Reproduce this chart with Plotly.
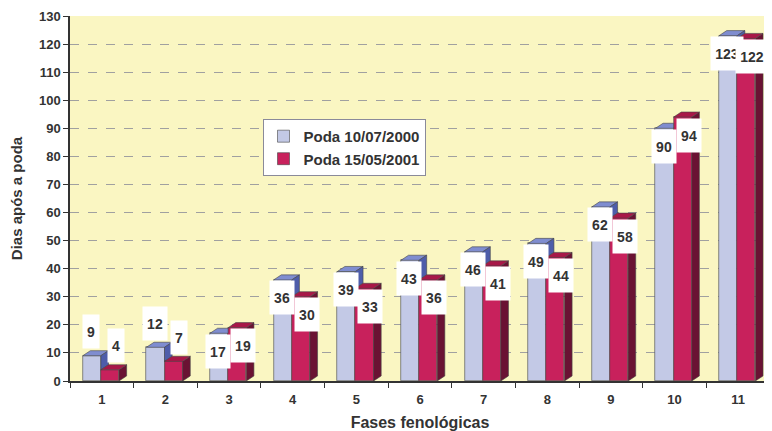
import plotly.graph_objects as go

categories = [1, 2, 3, 4, 5, 6, 7, 8, 9, 10, 11]
poda_2000 = [9, 12, 17, 36, 39, 43, 46, 49, 62, 90, 123]
poda_2001 = [4, 7, 19, 30, 33, 36, 41, 44, 58, 94, 122]
series_names = ["Poda 10/07/2000", "Poda 15/05/2001"]
y_ticks = list(range(0, 131, 10))

FONT = "Liberation Sans, Arial, sans-serif"
TXT = "#333333"
BW = 0.285          # bar width (axis units)
OFF_B = -0.30       # offset of blue bar from category centre
OFF_R = -0.015      # offset of red bar
DX = 0.12           # 3D depth, x units
DY = 1.8            # 3D depth, y units

blue_face, blue_top, blue_side = "#C3C9E6", "#7F8DD0", "#4E5DAA"
red_face, red_top, red_side = "#C8215C", "#A81848", "#6A1233"
edge = "#444444"

fig = go.Figure()
fig.add_trace(go.Bar(x=categories, y=poda_2000, name=series_names[0], width=BW, offset=OFF_B,
                     marker=dict(color=blue_face, line=dict(color=edge, width=0.6))))
fig.add_trace(go.Bar(x=categories, y=poda_2001, name=series_names[1], width=BW, offset=OFF_R,
                     marker=dict(color=red_face, line=dict(color=edge, width=0.6))))

def poly(pts):
    return "M " + " L ".join(f"{x},{y}" for x, y in pts) + " Z"

shapes = []
for c, b, r in zip(categories, poda_2000, poda_2001):
    bx0, bx1 = c + OFF_B, c + OFF_B + BW
    rx0, rx1 = c + OFF_R, c + OFF_R + BW
    if r >= b + DY:
        pts = [(bx0, b), (bx1, b), (bx1, b + DY), (bx0 + DX, b + DY)]
    else:
        pts = [(bx0, b), (bx1, b), (bx1 + DX, b + DY), (bx0 + DX, b + DY)]
    shapes.append(dict(type="path", path=poly(pts), xref="x", yref="y",
                       fillcolor=blue_top, line=dict(color=edge, width=0.6), layer="above"))
    if b > r:
        pts = [(bx1, r), (bx1, b), (bx1 + DX, b + DY), (bx1 + DX, r + DY)]
        shapes.append(dict(type="path", path=poly(pts), xref="x", yref="y",
                           fillcolor=blue_side, line=dict(color=edge, width=0.6), layer="above"))
    pts = [(rx1, 0), (rx1, r), (rx1 + DX, r + DY), (rx1 + DX, DY)]
    shapes.append(dict(type="path", path=poly(pts), xref="x", yref="y",
                       fillcolor=red_side, line=dict(color=edge, width=0.6), layer="above"))
    pts = [(rx0, r), (rx1, r), (rx1 + DX, r + DY), (rx0 + DX, r + DY)]
    shapes.append(dict(type="path", path=poly(pts), xref="x", yref="y",
                       fillcolor=red_top, line=dict(color=edge, width=0.6), layer="above"))

annotations = []
for c, b, r in zip(categories, poda_2000, poda_2001):
    for v, dxl in ((b, -0.17), (r, 0.22)):
        s = str(v)
        annotations.append(dict(x=c + dxl, y=v, xref="x", yref="y", text=s,
                                showarrow=False, bgcolor="white", width=8 * len(s) + 8, height=33,
                                borderpad=0, yshift=(24 if v < 15 else -18),
                                font=dict(family=FONT, size=14, color=TXT, weight="bold")))

# page body adds an 8px margin; the figure is sized to compensate
fig.update_layout(
    width=764, height=423,
    margin=dict(l=62, r=2, t=8, b=50),
    paper_bgcolor="white", plot_bgcolor="#FAF6C2",
    barmode="overlay", bargap=0,
    shapes=shapes, annotations=annotations,
    font=dict(family=FONT, color=TXT),
    legend=dict(x=0.275, y=0.718, xanchor="left", yanchor="top",
                bgcolor="white", bordercolor="#8A8A9A", borderwidth=1,
                itemwidth=30,
                font=dict(family=FONT, size=15, color=TXT, weight="bold"),
                tracegroupgap=2),
    xaxis=dict(range=[0.5, 11.5], tickmode="array", tickvals=categories,
               ticktext=[str(c) for c in categories], ticks="", showgrid=False,
               showline=True, linecolor="#333333", linewidth=1.5, zeroline=False,
               ticklabelstandoff=6,
               tickfont=dict(family=FONT, size=13, color=TXT, weight="bold"),
               title=dict(text="Fases fenológicas", standoff=10,
                          font=dict(family=FONT, size=16, color=TXT, weight="bold"))),
    xaxis2=dict(range=[0.5, 11.5], overlaying="x", anchor="y", side="bottom",
                tickmode="array", tickvals=[c - 0.5 for c in categories] + [11.5],
                ticks="outside", ticklen=6, tickcolor="#333333", showticklabels=False,
                showgrid=False, zeroline=False),
    yaxis=dict(range=[0, 130], tickmode="array", tickvals=y_ticks, ticks="outside",
               ticklen=5, tickcolor="#333333", showline=True, linecolor="#333333",
               linewidth=1.5, zeroline=False, gridcolor="#A0A0A0", griddash="dash",
               gridwidth=1,
               tickfont=dict(family=FONT, size=13, color=TXT, weight="bold"),
               title=dict(text="Dias após a poda", standoff=18,
                          font=dict(family=FONT, size=15, color=TXT, weight="bold"))),
)
fig.add_trace(go.Scatter(x=[0.5], y=[0], xaxis="x2", mode="markers",
                         marker=dict(opacity=0), showlegend=False, hoverinfo="skip"))

fig.write_html("out.html")
